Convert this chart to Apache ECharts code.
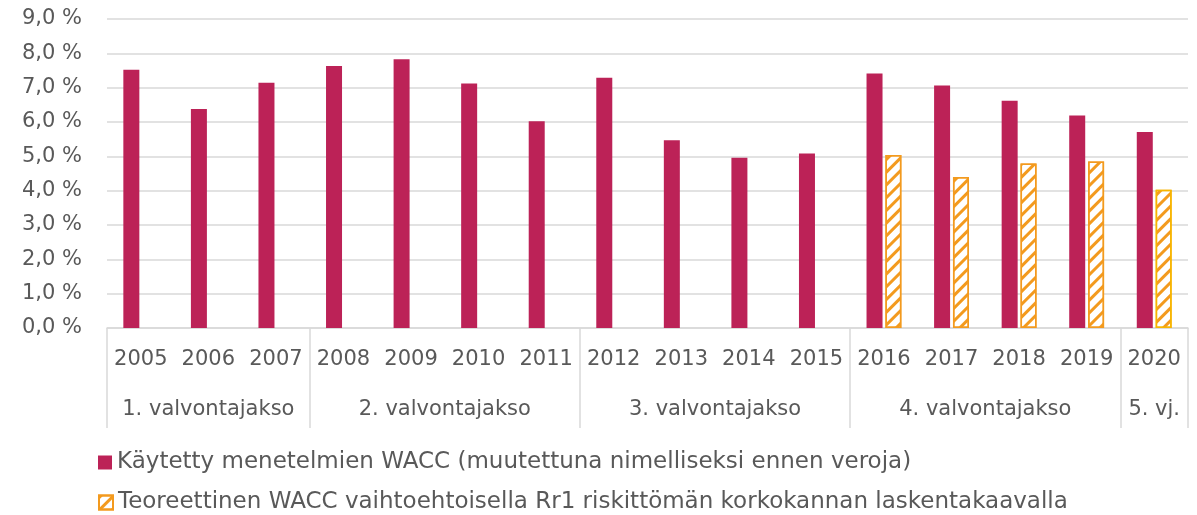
<!DOCTYPE html>
<html>
<head>
<meta charset="utf-8">
<script src="https://cdn.jsdelivr.net/npm/echarts@6/dist/echarts.min.js"></script>
<style>
  html, body { margin: 0; padding: 0; background: #fff; }
  #chart { width: 1197px; height: 515px; }
</style>
</head>
<body>
<div id="chart"></div>
<script>
const years = ['2005', '2006', '2007', '2008', '2009', '2010', '2011', '2012',
  '2013', '2014', '2015', '2016', '2017', '2018', '2019', '2020'];
const waccUsed = [7.52, 6.38, 7.14, 7.63, 7.83, 7.12, 6.02, 7.29,
  5.47, 4.96, 5.08, 7.41, 7.06, 6.62, 6.19, 5.71];
const waccTheory = [null, null, null, null, null, null, null, null,
  null, null, null, 5.04, 4.40, 4.79, 4.85, 4.03];
// regulation periods: name and the category index range they cover
const periods = ['1. valvontajakso', '2. valvontajakso', '3. valvontajakso', '4. valvontajakso', '5. vj.'];
const periodBounds = [0, 3, 7, 11, 15, 16];
const yTicks = [0, 1, 2, 3, 4, 5, 6, 7, 8, 9];

const legendUsed = 'Käytetty menetelmien WACC (muutettuna nimelliseksi ennen veroja)';
const legendTheory = 'Teoreettinen WACC vaihtoehtoisella Rr1 riskittömän korkokannan laskentakaavalla';

const font = 'DejaVu Sans';
const textColor = '#595959';
const lineColor = '#d9d9d9';
const magenta = '#bc2257';
const orange = '#f39a1e';

const periodCenters = periods.map((p, i) => (periodBounds[i] + periodBounds[i + 1]) / 2);

const chart = echarts.init(document.getElementById('chart'));

const hatch = {
  symbol: 'rect',
  color: orange,
  dashArrayX: [1, 0],
  dashArrayY: [3, 6],
  rotation: -Math.PI / 4
};

// one legend per row so each line sits where the reference has it
const legendBase = {
  left: 93,
  itemWidth: 14,
  itemHeight: 14,
  icon: 'rect',
  textStyle: { fontFamily: font, fontSize: 23, color: textColor, padding: [0, 0, 0, 0] }
};

chart.setOption({
  animation: false,
  textStyle: { fontFamily: font },
  grid: { left: 107, right: 9, top: 19, bottom: 187 },
  legend: [
    Object.assign({ top: 446, data: [legendUsed] }, legendBase),
    Object.assign({ top: 486, data: [legendTheory] }, legendBase)
  ],
  xAxis: [
    {
      type: 'category',
      data: years,
      axisLine: { lineStyle: { color: lineColor, width: 1.5 } },
      axisTick: { show: false },
      axisLabel: { fontFamily: font, fontSize: 21, color: textColor, margin: 21, interval: 0 }
    },
    {
      type: 'value',
      position: 'bottom',
      min: 0,
      max: 16,
      axisLine: { show: false },
      splitLine: { show: false },
      axisTick: {
        show: true,
        length: 100,
        customValues: periodBounds,
        lineStyle: { color: lineColor, width: 1.5 }
      },
      axisLabel: {
        fontFamily: font,
        fontSize: 21,
        color: textColor,
        margin: 71,
        customValues: periodCenters,
        formatter: v => periods[periodCenters.indexOf(v)] || ''
      }
    }
  ],
  yAxis: {
    type: 'value',
    min: yTicks[0],
    max: yTicks[yTicks.length - 1],
    interval: 1,
    axisLine: { show: false },
    axisTick: { show: false },
    splitLine: { lineStyle: { color: lineColor, width: 1.5 } },
    axisLabel: {
      fontFamily: font,
      fontSize: 21,
      color: textColor,
      margin: 25,
      formatter: v => v.toFixed(1).replace('.', ',') + ' %'
    }
  },
  series: [
    {
      name: legendUsed,
      type: 'bar',
      xAxisIndex: 0,
      data: waccUsed,
      barWidth: 16,
      barGap: '18%',
      itemStyle: { color: magenta }
    },
    {
      name: legendTheory,
      type: 'bar',
      xAxisIndex: 0,
      data: waccTheory.map((v, i) => i === waccTheory.length - 1
        ? { value: v, itemStyle: { borderColor: '#f7b500' } }
        : v),
      barWidth: 16,
      itemStyle: {
        color: '#fff',
        borderColor: orange,
        borderWidth: 1.5,
        decal: hatch
      }
    }
  ]
});
</script>
</body>
</html>
